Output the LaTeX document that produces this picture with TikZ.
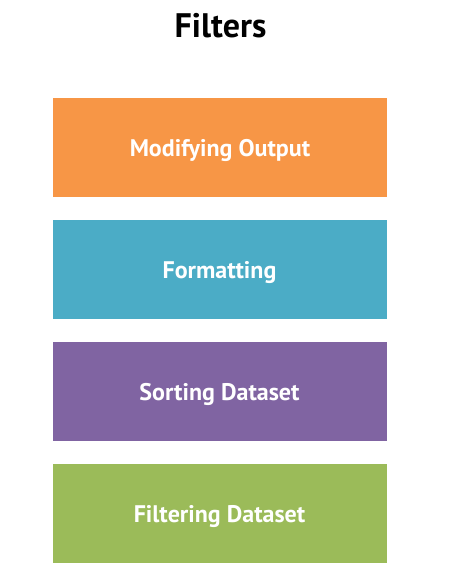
\documentclass[tikz,border=0pt]{standalone}
\usepackage{fontspec}
\setmainfont{PT Sans}
\definecolor{cOrange}{HTML}{F79646}
\definecolor{cBlue}{HTML}{4BACC6}
\definecolor{cPurple}{HTML}{8064A2}
\definecolor{cGreen}{HTML}{9BBB59}
\begin{document}
\begin{tikzpicture}[x=1pt,y=-1pt,
  boxstyle/.style={minimum width=334pt,minimum height=99pt,inner sep=0pt,
    text height=19pt,text depth=2pt,
    text=white,font=\fontsize{24}{28}\selectfont\bfseries}]
\useasboundingbox (0,0) rectangle (465,582);
\node[font=\fontsize{34}{40}\selectfont\bfseries,anchor=base] (title) at (220.5,37) {Filters};
\node[boxstyle,fill=cOrange] (b1) at (220,147.5) {Modifying Output};
\node[boxstyle,fill=cBlue] (b2) at (219.5,269.5) {Formatting};
\node[boxstyle,fill=cPurple] (b3) at (219.5,391.5) {Sorting Dataset};
\node[boxstyle,fill=cGreen] (b4) at (219.5,513.5) {Filtering Dataset};
\end{tikzpicture}
\end{document}
